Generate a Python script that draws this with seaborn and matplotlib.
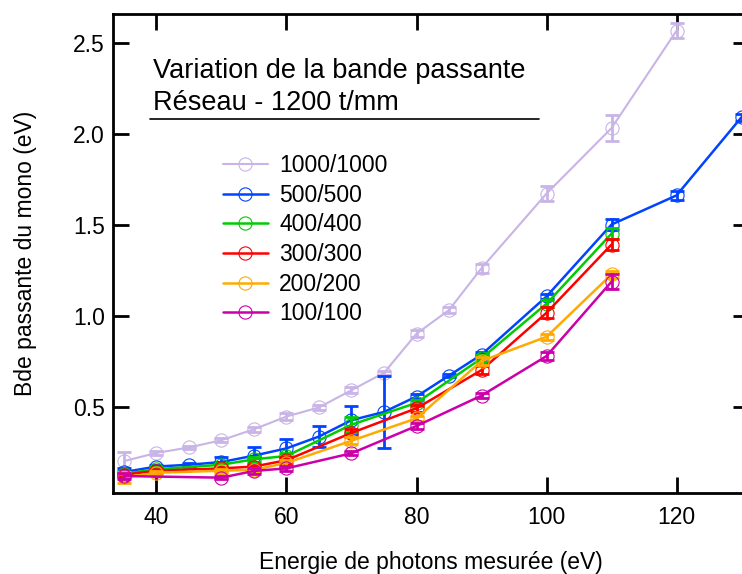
import matplotlib
matplotlib.use("Agg")
import matplotlib.pyplot as plt
from matplotlib.lines import Line2D
import seaborn as sns

# Photon energies (eV) for each slit setting
x_1000 = [35, 40, 45, 50, 55, 60, 65, 70, 75, 80, 85, 90, 100, 110, 120]
x_500 = [35, 40, 45, 50, 55, 60, 65, 70, 75, 80, 85, 90, 100, 110, 120, 130]
x_std = [35, 40, 50, 55, 60, 70, 80, 90, 100, 110]
x_100 = [35, 50, 55, 60, 70, 80, 90, 100, 110]

# Measured bandwidth (eV) and uncertainty
y_1000 = [0.20, 0.245, 0.275, 0.315, 0.375, 0.445, 0.495, 0.59, 0.685, 0.90, 1.03, 1.26, 1.67, 2.03, 2.565]
e_1000 = [0.05, 0.01, 0.01, 0.01, 0.015, 0.02, 0.015, 0.015, 0.01, 0.02, 0.015, 0.025, 0.04, 0.07, 0.04]

y_500 = [0.14, 0.17, 0.18, 0.195, 0.23, 0.27, 0.335, 0.425, 0.47, 0.555, 0.67, 0.785, 1.105, 1.50, 1.66, 2.09]
e_500 = [0.02, 0.01, 0.01, 0.03, 0.045, 0.05, 0.06, 0.08, 0.20, 0.015, 0.01, 0.015, 0.015, 0.03, 0.025, 0.02]

y_400 = [0.13, 0.155, 0.18, 0.21, 0.228, 0.40, 0.52, 0.765, 1.065, 1.45]
e_400 = [0.01, 0.01, 0.01, 0.015, 0.015, 0.04, 0.015, 0.02, 0.02, 0.03]

y_300 = [0.125, 0.147, 0.16, 0.17, 0.205, 0.355, 0.49, 0.70, 1.015, 1.39]
e_300 = [0.01, 0.01, 0.01, 0.01, 0.02, 0.02, 0.02, 0.02, 0.03, 0.03]

y_200 = [0.11, 0.136, 0.147, 0.152, 0.19, 0.312, 0.435, 0.75, 0.883, 1.226]
e_200 = [0.03, 0.01, 0.01, 0.01, 0.015, 0.02, 0.015, 0.02, 0.015, 0.02]

y_100 = [0.118, 0.109, 0.146, 0.16, 0.243, 0.393, 0.56, 0.777, 1.186]
e_100 = [0.015, 0.01, 0.015, 0.015, 0.01, 0.015, 0.015, 0.02, 0.04]

labels = ["1000/1000", "500/500", "400/400", "300/300", "200/200", "100/100"]
colors = ["#C8B4E6", "#0044FF", "#00CC00", "#FF0000", "#FFAA00", "#CC00AA"]

series = [
    (x_1000, y_1000, e_1000),
    (x_500, y_500, e_500),
    (x_std, y_400, e_400),
    (x_std, y_300, e_300),
    (x_std, y_200, e_200),
    (x_100, y_100, e_100),
]

sns.set_theme(style="ticks")
plt.rcParams["font.family"] = ["Liberation Sans", "DejaVu Sans"]
plt.rcParams["text.color"] = "black"
plt.rcParams["axes.labelcolor"] = "black"

W, H = 742, 574
fig = plt.figure(figsize=(W / 100, H / 100), dpi=100)
# plot frame runs slightly past the right edge of the canvas
ax_left, ax_right, ax_top, ax_bottom = 113, 749, 14, 493
ax = fig.add_axes([ax_left / W, 1 - ax_bottom / H,
                   (ax_right - ax_left) / W, (ax_bottom - ax_top) / H])

for (xs, ys, es), lab, col in zip(series, labels, colors):
    lw = 1.5 if lab == "1000/1000" else 1.8
    sns.lineplot(x=xs, y=ys, ax=ax, color=col, label=lab, linewidth=lw,
                 marker="o", markersize=9.5, markerfacecolor="none",
                 markeredgecolor=col, markeredgewidth=0.8, clip_on=True)
    ax.errorbar(xs, ys, yerr=es, fmt="none", ecolor=col, elinewidth=2.0,
                capsize=4.7, capthick=2.0)

ax.set_xlim(33.31, 131.15)
ax.set_ylim(0.0247, 2.657)
ax.set_xticks([40, 60, 80, 100, 120])
ax.set_yticks([0.5, 1.0, 1.5, 2.0, 2.5])
ax.set_yticklabels(["0.5", "1.0", "1.5", "2.0", "2.5"])

for sp in ax.spines.values():
    sp.set_visible(True)
    sp.set_linewidth(2.0)
    sp.set_color("black")

ax.tick_params(axis="both", which="major", direction="in", length=11.5,
               width=2.0, color="black", labelsize=16.5, labelcolor="black",
               top=True, right=True)
ax.tick_params(axis="x", pad=9.5)
ax.tick_params(axis="y", pad=6)

ax.set_xlabel("Energie de photons mesurée (eV)", fontsize=16.5, labelpad=16)
ax.set_ylabel("Bde passante du mono (eV)", fontsize=16.5, labelpad=26)
ax.grid(False)

leg = ax.legend(loc="upper left", bbox_to_anchor=(223 / W, 1 - 154 / H),
                bbox_transform=fig.transFigure, frameon=False, fontsize=16.5,
                handlelength=1.95, handletextpad=0.5, labelspacing=0.29,
                borderpad=0, borderaxespad=0)
for t in leg.get_texts():
    t.set_color("black")

fig.text(153 / W, 1 - 78 / H, "Variation de la bande passante", fontsize=19.5,
         va="baseline", ha="left", color="black")
fig.text(153 / W, 1 - 110 / H, "Réseau - 1200 t/mm", fontsize=19.5,
         va="baseline", ha="left", color="black")
fig.add_artist(Line2D([150 / W, 539 / W], [1 - 119.3 / H, 1 - 119.3 / H],
                      transform=fig.transFigure, color="black", linewidth=1.2))

fig.savefig("out.png", dpi=100)
